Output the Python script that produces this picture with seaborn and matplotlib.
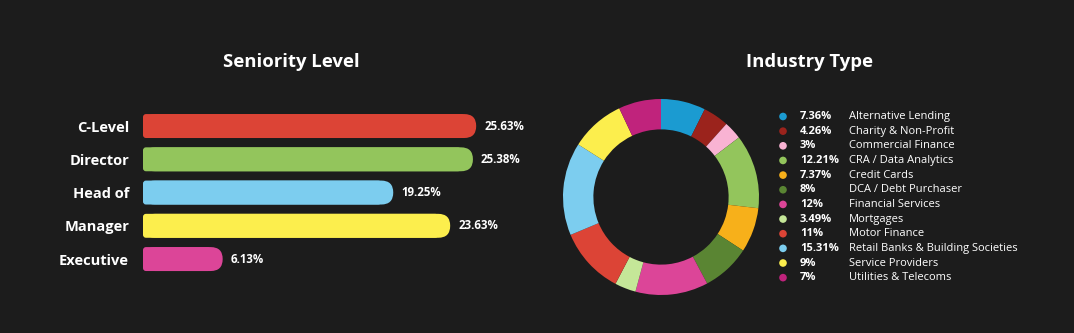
import matplotlib
matplotlib.use("Agg")
import matplotlib.pyplot as plt
from matplotlib.patches import FancyBboxPatch
import seaborn as sns

# Seniority data
seniority = ["C-Level", "Director", "Head of", "Manager", "Executive"]
seniority_pct = [25.63, 25.38, 19.25, 23.63, 6.13]
seniority_colors = ["#dc4436", "#93c55c", "#7ccdef", "#fcee4d", "#dc4598"]

# Industry data
industries = ["Alternative Lending", "Charity & Non-Profit", "Commercial Finance",
              "CRA / Data Analytics", "Credit Cards", "DCA / Debt Purchaser",
              "Financial Services", "Mortgages", "Motor Finance",
              "Retail Banks & Building Societies", "Service Providers",
              "Utilities & Telecoms"]
industry_pct = [7.36, 4.26, 3, 12.21, 7.37, 8, 12, 3.49, 11, 15.31, 9, 7]
industry_colors = ["#1b9bd1", "#9b231c", "#f9b3d3", "#93c55c", "#f7b01a", "#5a8533",
                   "#dc4598", "#c5e798", "#dc4436", "#7ccdef", "#fcee4d", "#c0237c"]

BG = "#1c1c1c"
W, H = 1074, 333

sns.set_theme(style="dark", rc={"figure.facecolor": BG, "axes.facecolor": BG,
                                "savefig.facecolor": BG})
plt.rcParams["font.family"] = ["Open Sans", "DejaVu Sans"]

fig = plt.figure(figsize=(W / 100, H / 100), dpi=100)


def fbox(left, top, width, height):
    return [left / W, 1 - (top + height) / H, width / W, height / H]


# ---- bar chart ----
ax = fig.add_axes(fbox(143, 101.1, 400, 182.9))
sns.barplot(x=seniority_pct, y=seniority, hue=seniority, palette=seniority_colors,
            orient="h", width=0.72, legend=False, ax=ax)
ax.set_xlim(0, 400 / 13.0)
ax.set_ylim(4.75, -0.75)
ax.set_xticks([])
ax.set_xlabel("")
ax.set_ylabel("")
for s in ax.spines.values():
    s.set_visible(False)
ax.tick_params(axis="y", length=0, pad=10)
for lab in ax.get_yticklabels():
    lab.set_color("white")
    lab.set_fontweight("bold")
    lab.set_fontsize(10.5)

fig.canvas.draw()
p0 = ax.transData.transform((0, 0))
px_x = ax.transData.transform((1, 0))[0] - p0[0]
px_y = abs(ax.transData.transform((0, 1))[1] - p0[1])
aspect = px_x / px_y  # y-units per x-unit for the same pixel length

for patch, color in zip(list(ax.patches), seniority_colors):
    x0, y0 = patch.get_x(), patch.get_y()
    w, h = patch.get_width(), patch.get_height()
    patch.set_visible(False)
    r = (h / 2) / aspect  # half height expressed in x units
    pill = FancyBboxPatch((x0, y0), w, h, boxstyle=f"round,pad=0,rounding_size={r}",
                          mutation_aspect=aspect, fc=color, ec="none")
    ax.add_patch(pill)
    small = 3 / px_x
    rect = FancyBboxPatch((x0, y0), w - r, h, boxstyle=f"round,pad=0,rounding_size={small}",
                          mutation_aspect=aspect, fc=color, ec="none")
    ax.add_patch(rect)

for i, v in enumerate(seniority_pct):
    ax.annotate(f"{v}%", xy=(v, i), xytext=(8, 0), textcoords="offset pixels",
                ha="left", va="center", color="white", fontsize=8.3, fontweight="bold")

fig.text(291 / W, 1 - 62 / H, "Seniority Level", ha="center", va="center",
         color="white", fontsize=13.3, fontweight="bold")
fig.text(810 / W, 1 - 62 / H, "Industry Type", ha="center", va="center",
         color="white", fontsize=13.3, fontweight="bold")

# ---- donut ----
pax = fig.add_axes(fbox(563, 99, 196, 196))
pax.pie(industry_pct, colors=industry_colors, startangle=90, counterclock=False,
        radius=1, wedgeprops=dict(width=0.31, edgecolor="none", linewidth=0))
pax.set_xlim(-1, 1)
pax.set_ylim(-1, 1)
pax.axis("off")

# ---- legend ----
lax = fig.add_axes([0, 0, 1, 1])
lax.set_xlim(0, W)
lax.set_ylim(H, 0)
lax.axis("off")
lax.patch.set_alpha(0)
for i, (name, v, c) in enumerate(zip(industries, industry_pct, industry_colors)):
    y = 116.5 + i * 14.65
    lax.scatter([783], [y], s=30, color=c, edgecolors="none")
    vs = f"{v:g}%"
    lax.text(800, y, vs, ha="left", va="center", color="white", fontsize=8,
             fontweight="bold")
    lax.text(849, y, name, ha="left", va="center", color="white", fontsize=8)

fig.savefig("out.png", dpi=100, facecolor=BG)
